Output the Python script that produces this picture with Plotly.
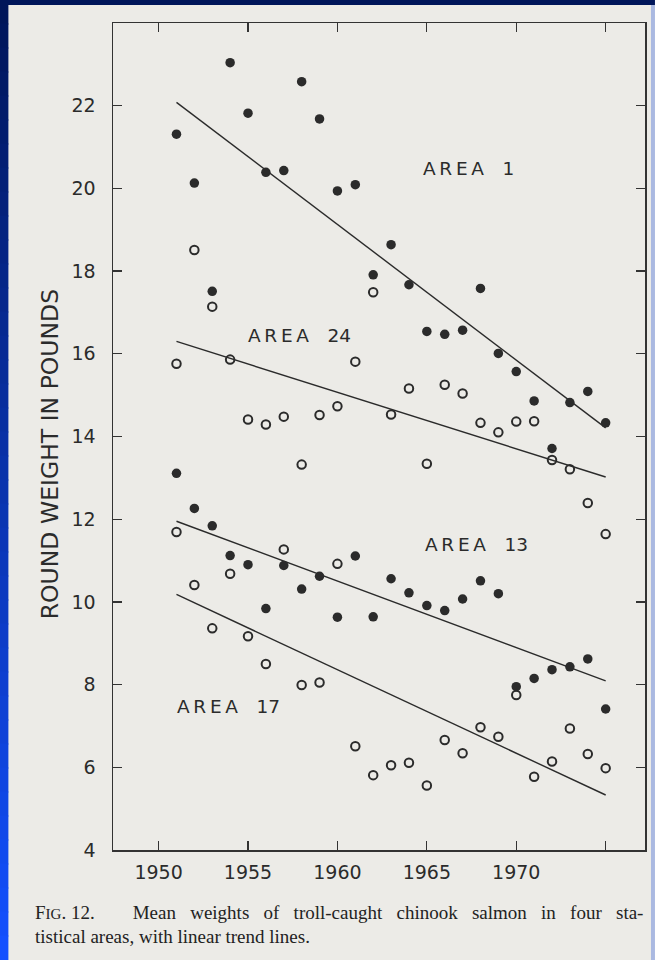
import plotly.graph_objects as go

# ---------------- data ----------------
years = list(range(1951, 1976))

area1 = [21.31, 20.13, 17.51, 23.04, 21.82, 20.39, 20.43, 22.58, 21.68, 19.94,
         20.09, 17.91, 18.64, 17.67, 16.54, 16.47, 16.57, 17.58, 16.01, 15.57,
         14.86, 13.71, 14.82, 15.09, 14.33]
area24 = [15.76, 18.51, 17.14, 15.86, 14.41, 14.29, 14.48, 13.32, 14.52, 14.73,
          15.81, 17.49, 14.53, 15.16, 13.34, 15.25, 15.04, 14.33, 14.10, 14.36,
          14.37, 13.43, 13.21, 12.39, 11.64]
area13 = [13.11, 12.26, 11.84, 11.12, 10.90, 9.84, 10.88, 10.31, 10.62, 9.63,
          11.11, 9.64, 10.56, 10.22, 9.91, 9.79, 10.07, 10.51, 10.20, 7.95,
          8.15, 8.36, 8.43, 8.62, 7.41]
area17 = [11.69, 10.41, 9.36, 10.68, 9.17, 8.50, 11.27, 7.99, 8.05, 10.92,
          6.51, 5.81, 6.05, 6.11, 5.56, 6.66, 6.34, 6.97, 6.74, 7.75,
          5.77, 6.14, 6.94, 6.32, 5.98]

trend_years = [1951, 1975]
trend1 = [22.08, 14.21]
trend24 = [16.30, 13.02]
trend13 = [11.95, 8.09]
trend17 = [10.18, 5.33]

x_tickvals = [1950, 1955, 1960, 1965, 1970, 1975]
x_ticktext = ["1950", "1955", "1960", "1965", "1970", ""]
y_tickvals = [4, 6, 8, 10, 12, 14, 16, 18, 20, 22]
y_ticktext = ["4", "6", "8", "10", "12", "14", "16", "18", "20", "22"]

area_labels = ["1", "24", "13", "17"]

# ---------------- styling ----------------
INK = "#2b2b2b"
PAPER = "#ecebe7"
W, H = 655, 960
ML, MR, MT, MB = 113, 8, 23, 110
PW, PH = W - ML - MR, H - MT - MB


def px_x(px):
    return (px - ML) / PW


def px_y(py):
    return (H - MB - py) / PH


fig = go.Figure()

for ty in (trend1, trend24, trend13, trend17):
    fig.add_trace(go.Scatter(x=trend_years, y=ty, mode="lines",
                             line=dict(color=INK, width=1.4),
                             hoverinfo="skip", showlegend=False))

for vals in (area1, area13):
    fig.add_trace(go.Scatter(x=years, y=vals, mode="markers",
                             marker=dict(symbol="circle", size=9.5, color=INK,
                                         line=dict(width=0)),
                             showlegend=False))
for vals in (area24, area17):
    fig.add_trace(go.Scatter(x=years, y=vals, mode="markers",
                             marker=dict(symbol="circle-open", size=8.5, color=INK,
                                         line=dict(width=2, color=INK)),
                             showlegend=False))

tickfont = dict(family="DejaVu Sans", size=19, color=INK)
axis_common = dict(showline=True, linecolor="#333333", linewidth=1.5, mirror="ticks",
                   ticks="inside", ticklen=9, tickwidth=1.3, tickcolor="#333333",
                   showgrid=False, zeroline=False, tickfont=tickfont)

fig.update_xaxes(range=[1947.45, 1977.2], tickvals=x_tickvals, ticktext=x_ticktext,
                 ticklabelstandoff=5, **axis_common)
fig.update_yaxes(range=[4, 24], tickvals=y_tickvals, ticktext=y_ticktext,
                 ticklabelstandoff=12, **axis_common)

# area labels
label_pos = [(1964.69, 20.49), (1954.90, 16.45), (1964.80, 11.38), (1950.90, 7.48)]
for lab, (lx, ly) in zip(area_labels, label_pos):
    fig.add_annotation(x=lx, y=ly, xref="x", yref="y", xanchor="left", yanchor="middle",
                       text="A\u2009R\u2009E\u2009A\u2003" + lab, showarrow=False,
                       font=dict(family="DejaVu Sans", size=18.5, color=INK))

# y-axis title
fig.add_annotation(x=px_x(50), y=px_y(454), xref="paper", yref="paper",
                   text="ROUND WEIGHT IN POUNDS", textangle=-90, showarrow=False,
                   xanchor="center", yanchor="middle",
                   font=dict(family="DejaVu Sans", size=23.5, color=INK))

# caption (first line justified in the original)
cap_font = dict(family="Liberation Serif", size=19, color="#222222")
g = " \u2002"
line1 = ("F<span style='font-size:15px'>IG</span>. 12.\u2003\u2003Mean" + g + "weights" + g + "of"
         + g + "troll-caught" + g + "chinook" + g + "salmon" + g + "in" + g + "four" + g + "sta-")
fig.add_annotation(x=px_x(33), y=px_y(913), xref="paper", yref="paper",
                   xanchor="left", yanchor="middle", showarrow=False,
                   text=line1, font=cap_font)
fig.add_annotation(x=px_x(33), y=px_y(936), xref="paper", yref="paper",
                   xanchor="left", yanchor="middle", showarrow=False,
                   text="tistical areas, with linear trend lines.",
                   font=cap_font)

# blue slide frame (left strip gradient, top strip, right hairline)
shapes = []
N = 40
c_top = (0, 22, 90)
c_bot = (20, 80, 255)
for i in range(N):
    t = i / (N - 1)
    c = tuple(int(c_top[k] + (c_bot[k] - c_top[k]) * t) for k in range(3))
    py0 = i * H / N
    py1 = (i + 1) * H / N
    shapes.append(dict(type="rect", xref="paper", yref="paper",
                       x0=px_x(-2), x1=px_x(8), y0=px_y(py1 + 0.5), y1=px_y(py0 - 0.5),
                       fillcolor="rgb(%d,%d,%d)" % c, line=dict(width=0), layer="above"))
shapes.append(dict(type="rect", xref="paper", yref="paper",
                   x0=px_x(-2), x1=px_x(W + 2), y0=px_y(5), y1=px_y(-2),
                   fillcolor="rgb(0,22,90)", line=dict(width=0), layer="above"))
shapes.append(dict(type="rect", xref="paper", yref="paper",
                   x0=px_x(W - 2), x1=px_x(W + 2), y0=px_y(H + 2), y1=px_y(5),
                   fillcolor="rgb(170,185,225)", line=dict(width=0), layer="above"))

fig.update_layout(width=W, height=H, margin=dict(l=ML, r=MR, t=MT, b=MB),
                  paper_bgcolor=PAPER, plot_bgcolor=PAPER, shapes=shapes,
                  showlegend=False)

fig.write_html("out.html", config={"displayModeBar": False, "staticPlot": True},
               post_script="document.body.style.margin='0';"
                           "document.body.style.padding='0';"
                           "document.body.style.overflow='hidden';")
